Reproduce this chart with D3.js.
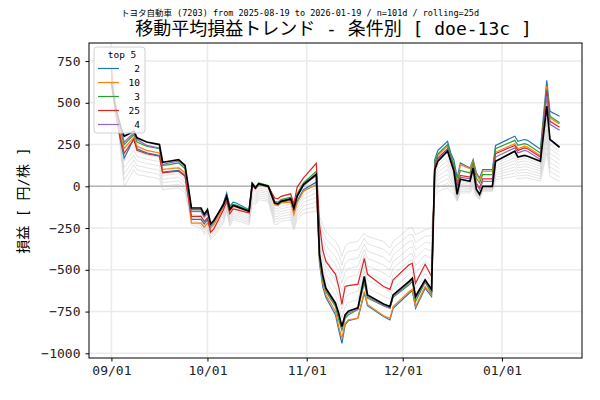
<!DOCTYPE html>
<html>
<head>
<meta charset="utf-8">
<script src="https://cdn.jsdelivr.net/npm/d3@7"></script>
<style>
  body { margin: 0; background: #fff; }
  text { font-family: "DejaVu Sans Mono", "Noto Sans CJK JP", monospace; }
</style>
</head>
<body>
<svg id="chart" width="600" height="400"></svg>
<script>
// vertex dates of the rolling lines
var dates = ["2025-09-01","2025-09-02","2025-09-03","2025-09-04","2025-09-05","2025-09-08","2025-09-09","2025-09-12","2025-09-16","2025-09-17",
  "2025-09-19","2025-09-22","2025-09-24","2025-09-25","2025-09-26","2025-09-29","2025-09-30","2025-10-01","2025-10-02","2025-10-03",
  "2025-10-06","2025-10-07","2025-10-08","2025-10-09","2025-10-10","2025-10-14","2025-10-15","2025-10-16","2025-10-17","2025-10-20",
  "2025-10-22","2025-10-23","2025-10-24","2025-10-27","2025-10-28","2025-10-29","2025-10-31","2025-11-04","2025-11-05","2025-11-06",
  "2025-11-07","2025-11-10","2025-11-11","2025-11-12","2025-11-13","2025-11-14","2025-11-17","2025-11-19","2025-11-20","2025-11-25",
  "2025-11-27","2025-11-28","2025-12-03","2025-12-04","2025-12-05","2025-12-08","2025-12-10","2025-12-11","2025-12-12","2025-12-15",
  "2025-12-16","2025-12-17","2025-12-18","2025-12-19","2025-12-22","2025-12-23","2025-12-24","2025-12-25","2025-12-26","2025-12-29",
  "2025-12-30","2026-01-05","2026-01-06","2026-01-08","2026-01-09","2026-01-13","2026-01-15","2026-01-16","2026-01-19"];

// aggregate (black)
var avgAll = [620,500,420,350,300,330,290,265,250,144,150,160,125,0,-130,-130,-168,-140,-225,-205,
  -110,-60,-138,-115,-120,-150,15,-10,15,0,-100,-105,-90,-75,-130,-60,10,72,-407,-530,
  -610,-700,-760,-840,-770,-748,-728,-540,-650,-705,-720,-650,-569,-550,-660,-560,-617,100,150,210,
  150,90,-48,42,30,108,-18,-48,0,0,150,210,175,185,180,150,480,280,234];

// top 5 conditions
var topNames = ["2", "10", "3", "25", "4"];
var top2 = [680,480,360,260,168,285,225,200,185,85,90,95,65,-60,-198,-198,-225,-200,-240,-215,
  -100,-40,-120,-95,-100,-140,20,-5,15,0,-105,-110,-95,-85,-150,-90,-20,25,-460,-600,
  -665,-770,-860,-940,-830,-805,-790,-640,-715,-780,-800,-730,-640,-625,-730,-610,-660,160,215,269,
  200,156,50,140,110,160,80,50,100,100,245,300,269,280,275,222,635,449,419];
var top10 = [690,490,380,290,228,293,240,215,200,100,105,110,80,-50,-220,-220,-245,-220,-250,-230,
  -125,-75,-150,-120,-125,-150,15,-8,12,-5,-110,-115,-100,-95,-170,-100,-30,10,-450,-580,
  -650,-750,-840,-910,-820,-800,-790,-629,-707,-775,-790,-720,-630,-617,-720,-600,-650,130,185,240,
  175,120,10,130,105,150,70,40,90,90,205,255,225,240,235,185,600,409,373];
var top3 = [660,490,400,320,250,310,265,240,225,125,130,140,105,-10,-140,-140,-175,-150,-230,-210,
  -110,-55,-130,-108,-112,-145,20,-5,20,5,-90,-95,-80,-65,-120,-45,20,90,-430,-560,
  -630,-720,-800,-862,-790,-770,-737,-580,-670,-715,-730,-665,-590,-570,-690,-575,-640,140,195,250,
  185,130,20,95,80,140,50,20,70,70,225,275,245,255,250,200,580,420,380];
var top25 = [700,470,360,270,198,281,215,195,180,80,85,90,60,-60,-180,-180,-210,-190,-275,-255,
  -140,-90,-165,-135,-140,-160,5,-15,10,0,-70,-75,-60,-45,-105,-6,50,138,-228,-380,
  -450,-527,-600,-707,-600,-595,-587,-431,-527,-600,-617,-560,-470,-461,-581,-467,-540,120,170,225,
  165,110,0,65,55,120,20,-10,45,45,195,245,215,230,225,175,569,389,353];
var top4 = [640,495,410,335,265,320,280,245,230,130,140,150,115,-20,-150,-150,-185,-160,-230,-210,
  -115,-65,-140,-118,-122,-150,12,-12,12,-2,-100,-105,-90,-78,-132,-62,5,65,-415,-540,
  -620,-710,-770,-850,-780,-758,-738,-550,-660,-715,-730,-660,-580,-560,-670,-570,-627,110,160,220,
  160,100,-20,55,45,115,10,-20,30,30,175,230,200,215,210,160,540,371,335];
var topColors = ["#1f77b4", "#ff7f0e", "#2ca02c", "#d62728", "#9467bd"];

// the other conditions (grey)
var other1 = [639,510,416,330,262,301,262,239,224,123,129,139,104,-15,-142,-145,-183,-155,-237,-217,
  -124,-71,-151,-126,-131,-160,1,-22,3,-11,-116,-120,-105,-91,-146,-78,-11,44,-379,-492,
  -568,-654,-710,-788,-719,-697,-678,-508,-606,-658,-676,-610,-529,-512,-614,-522,-571,80,128,182,
  128,72,-53,32,21,93,-23,-52,-4,-4,136,191,159,168,164,135,445,252,208];
var other2 = [658,520,411,311,225,272,235,214,199,103,109,117,84,-30,-155,-160,-198,-170,-249,-229,
  -138,-82,-164,-136,-141,-170,-14,-35,-9,-22,-132,-135,-120,-106,-162,-95,-32,17,-350,-455,
  -525,-608,-660,-735,-668,-646,-628,-475,-562,-611,-632,-570,-489,-475,-568,-485,-525,60,105,155,
  105,55,-58,22,12,78,-28,-56,-8,-8,122,172,142,151,148,120,410,225,183];
var other3 = [676,529,407,291,188,244,208,188,173,82,88,96,63,-45,-168,-175,-214,-185,-261,-241,
  -151,-94,-176,-147,-152,-180,-28,-48,-21,-34,-149,-150,-135,-122,-179,-112,-54,-11,-322,-418,
  -482,-561,-610,-682,-616,-595,-579,-442,-519,-564,-589,-530,-449,-438,-521,-448,-479,40,82,128,
  82,38,-64,11,4,64,-34,-60,-11,-11,109,154,126,134,131,105,375,198,158];
var other4 = [695,539,402,272,150,215,180,162,148,62,68,75,42,-60,-180,-190,-229,-200,-272,-252,
  -165,-105,-189,-158,-162,-190,-42,-60,-32,-45,-165,-165,-150,-138,-195,-130,-75,-39,-293,-380,
  -440,-515,-560,-630,-565,-544,-529,-410,-475,-518,-545,-490,-410,-400,-475,-410,-433,20,60,100,
  60,20,-69,1,-5,49,-39,-64,-15,-15,95,135,110,118,115,90,340,170,132];
var other5 = [714,549,398,252,112,186,152,137,122,41,47,54,22,-75,-192,-205,-244,-215,-284,-264,
  -179,-116,-202,-168,-173,-200,-57,-72,-44,-56,-181,-180,-165,-153,-211,-148,-96,-67,-265,-342,
  -398,-469,-510,-578,-514,-493,-479,-378,-431,-471,-501,-450,-370,-362,-429,-372,-388,0,38,72,
  38,2,-74,-9,-14,34,-44,-68,-19,-19,81,116,94,101,99,75,305,142,106];
var other6 = [733,559,394,232,75,157,125,111,96,21,26,32,1,-90,-205,-220,-260,-230,-296,-276,
  -192,-128,-214,-179,-184,-210,-71,-85,-56,-68,-198,-195,-180,-169,-228,-165,-118,-94,-237,-305,
  -355,-422,-460,-525,-462,-442,-430,-345,-388,-424,-458,-410,-330,-325,-382,-335,-342,-20,15,45,
  15,-15,-80,-20,-22,20,-50,-72,-22,-22,68,98,78,84,82,60,270,115,81];
var other7 = [751,568,389,213,38,129,98,86,71,0,6,11,-19,-105,-218,-235,-275,-245,-308,-288,
  -206,-139,-227,-189,-194,-220,-86,-98,-68,-79,-214,-210,-195,-184,-244,-182,-139,-122,-208,-268,
  -312,-376,-410,-472,-411,-391,-380,-312,-344,-377,-414,-370,-290,-288,-336,-298,-296,-40,-8,18,
  -8,-32,-85,-30,-31,5,-55,-76,-26,-26,54,79,61,67,66,45,235,88,56];
var other8 = [770,578,385,193,0,100,70,60,45,-20,-15,-10,-40,-120,-230,-250,-290,-260,-320,-300,
  -220,-150,-240,-200,-205,-230,-100,-110,-80,-90,-230,-225,-210,-200,-260,-200,-160,-150,-180,-230,
  -270,-330,-360,-420,-360,-340,-330,-280,-300,-330,-370,-330,-250,-250,-290,-260,-250,-60,-30,-10,
  -30,-50,-90,-40,-40,-10,-60,-80,-30,-30,40,60,45,50,50,30,200,60,30];

var yTicks = [-1000, -750, -500, -250, 0, 250, 500, 750];
var xTicks = ["2025-09-01", "2025-10-01", "2025-11-01", "2025-12-01", "2026-01-01"];

(function () {
  var parse = d3.timeParse("%Y-%m-%d");
  var pL = 89, pR = 582, pT = 43, pB = 358;

  var svg = d3.select("#chart");

  var x = d3.scaleTime().domain([parse("2025-08-25"), parse("2026-01-26")]).range([pL, pR]);
  var y = d3.scaleLinear().domain([-1028, 858]).range([pB, pT]);

  svg.append("defs").append("clipPath").attr("id", "plot")
    .append("rect").attr("x", pL).attr("y", pT).attr("width", pR - pL).attr("height", pB - pT);

  // grid
  var grid = svg.append("g");
  grid.selectAll("line.gx").data(xTicks).enter().append("line")
    .attr("x1", function (d) { return x(parse(d)); }).attr("x2", function (d) { return x(parse(d)); })
    .attr("y1", pT).attr("y2", pB)
    .attr("stroke", "#ebebeb").attr("stroke-width", 1.5);
  grid.selectAll("line.gy").data(yTicks).enter().append("line")
    .attr("x1", pL).attr("x2", pR)
    .attr("y1", function (d) { return y(d); }).attr("y2", function (d) { return y(d); })
    .attr("stroke", "#ebebeb").attr("stroke-width", 1.5);

  // zero line
  svg.append("line").attr("x1", pL).attr("x2", pR).attr("y1", y(0)).attr("y2", y(0))
    .attr("stroke", "#b4b4b4").attr("stroke-width", 1.5);

  var line = d3.line()
    .defined(function (d) { return d[1] != null; })
    .x(function (d) { return x(d[0]); })
    .y(function (d) { return y(d[1]); });

  function pts(vals) {
    return dates.map(function (d, i) { return [parse(d), vals[i]]; });
  }

  var plot = svg.append("g").attr("clip-path", "url(#plot)");

  [other1, other2, other3, other4, other5, other6, other7, other8].forEach(function (s) {
    plot.append("path").attr("d", line(pts(s)))
      .attr("fill", "none").attr("stroke", "#c8c8c8").attr("stroke-opacity", 0.65).attr("stroke-width", 0.8);
  });

  var topSeries = [top2, top10, top3, top25, top4];
  topSeries.forEach(function (s, i) {
    plot.append("path").attr("d", line(pts(s)))
      .attr("fill", "none").attr("stroke", topColors[i]).attr("stroke-width", 1.2);
  });

  plot.append("path").attr("d", line(pts(avgAll)))
    .attr("fill", "none").attr("stroke", "#000").attr("stroke-width", 1.7);

  // axes
  var xAxis = d3.axisBottom(x).tickValues(xTicks.map(parse)).tickFormat(d3.timeFormat("%m/%d")).tickSize(3.5).tickPadding(4);
  var yAxis = d3.axisLeft(y).tickValues(yTicks).tickFormat(function (d) { return d < 0 ? "\u2212" + Math.abs(d) : d; }).tickSize(3.5).tickPadding(5);

  var gx = svg.append("g").attr("transform", "translate(0," + pB + ")").call(xAxis);
  var gy = svg.append("g").attr("transform", "translate(" + pL + ",0)").call(yAxis);
  [gx, gy].forEach(function (g) {
    g.select(".domain").remove();
    g.selectAll("text").attr("font-size", 13).attr("fill", "#222")
      .attr("font-family", "'DejaVu Sans Mono', monospace");
    g.selectAll("line").attr("stroke", "#000");
  });

  svg.append("rect").attr("x", pL).attr("y", pT).attr("width", pR - pL).attr("height", pB - pT)
    .attr("fill", "none").attr("stroke", "#000").attr("stroke-width", 1);

  // legend
  var lg = svg.append("g");
  lg.append("rect").attr("x", 94).attr("y", 47).attr("width", 51).attr("height", 86).attr("rx", 3)
    .attr("fill", "#fff").attr("fill-opacity", 0.8).attr("stroke", "#d0d0d0").attr("stroke-width", 1);
  lg.append("text").attr("x", 122).attr("y", 58).attr("text-anchor", "middle").attr("font-size", 9.5).text("top 5");
  topNames.forEach(function (n, i) {
    var yy = 68.5 + i * 14;
    lg.append("line").attr("x1", 98).attr("x2", 119).attr("y1", yy).attr("y2", yy)
      .attr("stroke", topColors[i]).attr("stroke-width", 1.2);
    lg.append("text").attr("x", 140).attr("y", yy + 3.5).attr("text-anchor", "end").attr("font-size", 9.5).text(n);
  });

  // titles
  svg.append("text").attr("x", 300).attr("y", 16).attr("text-anchor", "middle").attr("font-size", 8.5)
    .text("トヨタ自動車 (7203) from 2025-08-19 to 2026-01-19 / n=101d / rolling=25d");
  svg.append("text").attr("x", (pL + pR) / 2 - 2).attr("y", 35).attr("text-anchor", "middle").attr("font-size", 18)
    .text("移動平均損益トレンド - 条件別 [ doe-13c ]");
  svg.append("text").attr("transform", "translate(28," + ((pT + pB) / 2) + ") rotate(-90)")
    .attr("text-anchor", "middle").attr("font-size", 14).text("損益 [ 円/株 ]");
})();
</script>
</body>
</html>
